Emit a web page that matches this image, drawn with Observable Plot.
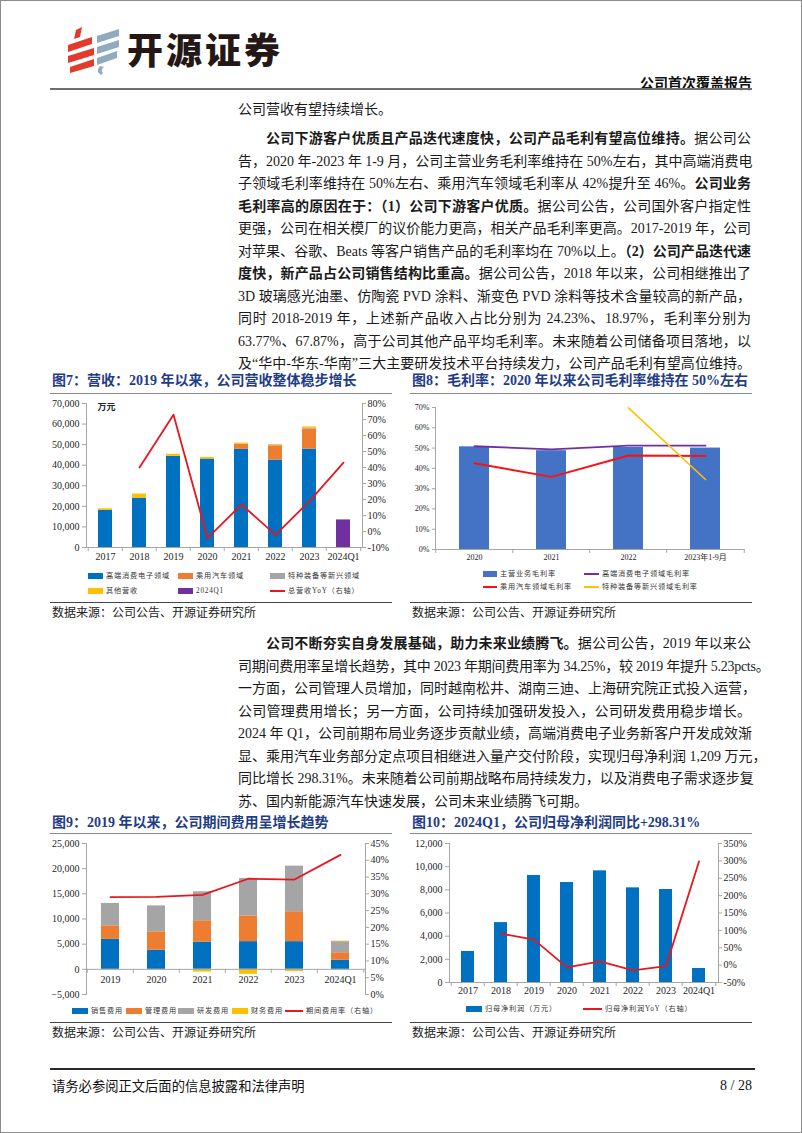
<!DOCTYPE html>
<html><head><meta charset="utf-8">
<script src="https://cdn.jsdelivr.net/npm/d3@7"></script>
<script src="https://cdn.jsdelivr.net/npm/@observablehq/plot@0.6"></script>
<style>
html,body{margin:0;padding:0;background:#fff;}
#page{position:relative;width:802px;height:1133px;overflow:hidden;font-family:"Liberation Serif","Noto Sans CJK SC",serif;color:#1a1a1a;}
#border{position:absolute;left:0;top:0;width:800px;height:1131px;border:1px solid #8c8c8c;pointer-events:none;}
.ln{position:absolute;left:238px;width:513px;font-size:14px;line-height:22px;height:22px;text-align:justify;text-align-last:justify;white-space:nowrap;}
.ln b{font-weight:700;}
.title{position:absolute;font-size:14px;font-weight:700;color:#1f3c86;white-space:nowrap;line-height:18px;}
.hr{position:absolute;height:0;border-top:1px solid #8a8a8a;}
.src{position:absolute;font-size:12px;line-height:14px;white-space:nowrap;color:#222;font-family:"Noto Sans CJK SC",serif;}
.lg{position:absolute;font-family:"Liberation Serif","Noto Sans CJK SC",serif;font-size:7.2px;letter-spacing:0.8px;color:#333;white-space:nowrap;line-height:10px;}
.sw{position:absolute;}
</style></head>
<body>
<div id="page">
  <svg style="position:absolute;left:60px;top:24px" width="70" height="52" viewBox="60 24 70 52">
    <g fill="#e23a2c">
      <polygon points="76,30 82,27 80,37 74,39"/>
      <polygon points="68,45 92,37 92,44 68,52"/>
      <polygon points="68,56 94,48 94,55 68,63"/>
      <polygon points="70,67 94,59 94,66 70,73"/>
    </g>
    <g fill="#90abc0">
      <polygon points="97,36 119,29 119,36 97,43"/>
      <polygon points="97,47 119,40 119,47 97,54"/>
      <polygon points="97,58 117,51 117,58 97,65"/>
      <path d="M100,66 q-5,5 1,9 l2,-2 q-3,-3 1,-6 z"/>
    </g>
  </svg>
  <div style="position:absolute;left:127px;top:24px;font-family:'Noto Sans CJK SC';font-weight:900;font-size:36px;letter-spacing:3px;color:#231815;line-height:48px;">开源证券</div>
  <div style="position:absolute;right:50px;top:73px;font-family:'Noto Sans CJK SC';font-weight:700;font-size:14px;line-height:18px;color:#111;">公司首次覆盖报告</div>
  <div class="hr" style="left:50px;top:88px;width:702px;border-top:2px solid #6e6e6e;"></div>

  <div class="ln" style="top:99px;text-align:left;text-align-last:left;">公司营收有望持续增长。</div>
  <div id="p1"></div>
  <div id="p2"></div>

  <div class="title" style="left:52px;top:372px;">图7：营收：2019 年以来，公司营收整体稳步增长</div>
  <div class="hr" style="left:50px;top:393px;width:342px;"></div>
  <div class="hr" style="left:50px;top:602px;width:342px;border-top-color:#444;"></div>
  <div class="src" style="left:52px;top:605px;">数据来源：公司公告、开源证券研究所</div>

  <div class="title" style="left:412px;top:372px;">图8：毛利率：2020 年以来公司毛利率维持在 50%左右</div>
  <div class="hr" style="left:410px;top:393px;width:342px;"></div>
  <div class="hr" style="left:410px;top:602px;width:342px;border-top-color:#444;"></div>
  <div class="src" style="left:412px;top:605px;">数据来源：公司公告、开源证券研究所</div>

  <div class="title" style="left:52px;top:814px;">图9：2019 年以来，公司期间费用呈增长趋势</div>
  <div class="hr" style="left:50px;top:833px;width:342px;"></div>
  <div class="hr" style="left:50px;top:1022px;width:342px;border-top-color:#444;"></div>
  <div class="src" style="left:52px;top:1025px;">数据来源：公司公告、开源证券研究所</div>

  <div class="title" style="left:412px;top:814px;">图10：2024Q1，公司归母净利润同比+298.31%</div>
  <div class="hr" style="left:410px;top:833px;width:342px;"></div>
  <div class="hr" style="left:410px;top:1022px;width:342px;border-top-color:#444;"></div>
  <div class="src" style="left:412px;top:1025px;">数据来源：公司公告、开源证券研究所</div>

  <div class="hr" style="left:50px;top:1068px;width:705px;border-top:2px solid #2a2a2a;"></div>
  <div style="position:absolute;left:52px;top:1077px;font-family:'Noto Sans CJK SC';font-size:13.3px;line-height:18px;color:#111;">请务必参阅正文后面的信息披露和法律声明</div>
  <div style="position:absolute;right:50px;top:1077px;font-family:'Liberation Serif';font-size:14px;line-height:18px;color:#111;">8 / 28</div>
  <div id="border"></div>
</div>
<script>
// ---------------- Body text ----------------
const para1 = [
  '<b>公司下游客户优质且产品迭代速度快，公司产品毛利有望高位维持。</b>据公司公',
  '告，2020 年-2023 年 1-9 月，公司主营业务毛利率维持在 50%左右，其中高端消费电',
  '子领域毛利率维持在 50%左右、乘用汽车领域毛利率从 42%提升至 46%。<b>公司业务</b>',
  '<b>毛利率高的原因在于：（1）公司下游客户优质。</b>据公司公告，公司国外客户指定性',
  '更强，公司在相关模厂的议价能力更高，相关产品毛利率更高。2017-2019 年，公司',
  '对苹果、谷歌、Beats 等客户销售产品的毛利率均在 70%以上。<b>（2）公司产品迭代速</b>',
  '<b>度快，新产品占公司销售结构比重高。</b>据公司公告，2018 年以来，公司相继推出了',
  '3D 玻璃感光油墨、仿陶瓷 PVD 涂料、渐变色 PVD 涂料等技术含量较高的新产品，',
  '同时 2018-2019 年，上述新产品收入占比分别为 24.23%、18.97%，毛利率分别为',
  '63.77%、67.87%，高于公司其他产品平均毛利率。未来随着公司储备项目落地，以',
  '及“华中-华东-华南”三大主要研发技术平台持续发力，公司产品毛利有望高位维持。'
];
const para2 = [
  '<b>公司不断夯实自身发展基础，助力未来业绩腾飞。</b>据公司公告，2019 年以来公',
  '司期间费用率呈增长趋势，其中 2023 年期间费用率为 34.25%，较 2019 年提升 5.23pcts。',
  '一方面，公司管理人员增加，同时越南松井、湖南三迪、上海研究院正式投入运营，',
  '公司管理费用增长；另一方面，公司持续加强研发投入，公司研发费用稳步增长。',
  '2024 年 Q1，公司前期布局业务逐步贡献业绩，高端消费电子业务新客户开发成效渐',
  '显、乘用汽车业务部分定点项目相继进入量产交付阶段，实现归母净利润 1,209 万元，',
  '同比增长 298.31%。未来随着公司前期战略布局持续发力，以及消费电子需求逐步复',
  '苏、国内新能源汽车快速发展，公司未来业绩腾飞可期。'
];
function writePara(lines, firstTop, holder, lastLeft) {
  const h = document.getElementById(holder);
  lines.forEach((t, i) => {
    const d = document.createElement('div');
    d.className = 'ln';
    d.style.top = (firstTop + i * 22.5) + 'px';
    if (i === 0) d.style.textIndent = '28px';
    if (lastLeft && i === lines.length - 1) { d.style.textAlign = 'left'; d.style.textAlignLast = 'left'; }
    if (t.indexOf('5.23pcts') >= 0) { d.style.width = '516px'; d.style.letterSpacing = '-0.25px'; }
    d.innerHTML = t;
    h.appendChild(d);
  });
}
writePara(para1, 128, 'p1', false);
writePara(para2, 633, 'p2', true);

// ---------------- Chart data ----------------
// Fig 7: revenue (万元) by segment, YoY (%)
const revYears = ["2017", "2018", "2019", "2020", "2021", "2022", "2023", "2024Q1"];
const revConsumer = [18000, 24000, 44300, 43000, 47700, 42500, 47800, 0];
const revAuto = [0, 0, 0, 0, 2600, 6800, 9800, 0];
const revSpecial = [0, 0, 0, 0, 0, 300, 300, 0];
const revOther = [800, 2000, 1000, 800, 400, 400, 700, 0];
const revQ1 = [0, 0, 0, 0, 0, 0, 0, 13400];
const revYoY = [null, 40.0, 73.0, -4.2, 16.9, -2.1, 19.0, 43.0];
const revSeries = ["高端消费电子领域", "乘用汽车领域", "特种装备等新兴领域", "其他营收", "2024Q1"];
const revLeftTicks = [0, 10000, 20000, 30000, 40000, 50000, 60000, 70000];
const revRightTicks = [-10, 0, 10, 20, 30, 40, 50, 60, 70, 80];

// Fig 8: gross margin (%)
const gmYears = ["2020", "2021", "2022", "2023年1-9月"];
const gmMain = [50.6, 48.7, 50.3, 50.0];
const gmConsumer = [50.9, 49.4, 51.2, 51.2];
const gmAuto = [42.5, 35.8, 46.3, 46.1];
const gmSpecial = [null, null, 69.8, 34.5];
const gmTicks = [0, 10, 20, 30, 40, 50, 60, 70];

// Fig 9: period expenses (万元), expense ratio (%)
const expYears = ["2019", "2020", "2021", "2022", "2023", "2024Q1"];
const expSales = [5950, 3800, 5400, 5500, 5500, 1800];
const expAdmin = [2700, 3650, 4250, 5100, 5950, 1500];
const expRD = [4450, 5150, 5750, 7450, 9050, 2200];
const expFin = [0, 0, -550, -1000, -450, 100];
const expRate = [29.0, 29.1, 29.7, 34.5, 34.25, 41.6];
const expSeries = ["销售费用", "管理费用", "研发费用", "财务费用"];
const expLeftTicks = [-5000, 0, 5000, 10000, 15000, 20000, 25000];
const expRightTicks = [0, 5, 10, 15, 20, 25, 30, 35, 40, 45];

// Fig 10: net profit (万元), YoY (%)
const npYears = ["2017", "2018", "2019", "2020", "2021", "2022", "2023", "2024Q1"];
const npProfit = [2680, 5170, 9240, 8630, 9640, 8170, 8030, 1209];
const npYoY = [null, 90.7, 73.4, -6.6, 10.7, -15.3, -2.9, 298.31];
const npLeftTicks = [0, 2000, 4000, 6000, 8000, 10000, 12000];
const npRightTicks = [-50, 0, 50, 100, 150, 200, 250, 300, 350];

// ---------------- Helpers ----------------
const BLUE = "#0070C0", ORANGE = "#ED7D31", GRAY = "#A5A5A5", YELLOW = "#FFC000", PURPLE = "#7030A0", RED = "#E8161E";
const AX = "#a6a6a6", TXT = "#262626";
const serif = '"Liberation Serif","Noto Sans CJK SC",serif';
const page = document.getElementById('page');
function put(node, left, top) {
  const d = document.createElement('div');
  d.style.cssText = `position:absolute;left:${left}px;top:${top}px;`;
  d.appendChild(node);
  page.appendChild(d);
}
function boundaryTicks(cats, plotW, yv) {
  const step = plotW / cats.length;
  return [
    Plot.ruleX(cats, {x: d => d, y1: () => yv, y2: () => yv, insetBottom: -4, dx: -step / 2, stroke: AX}),
    Plot.ruleX([cats[cats.length - 1]], {x: d => d, y1: () => yv, y2: () => yv, insetBottom: -4, dx: step / 2, stroke: AX})
  ];
}
function legend(items) {
  items.forEach(it => {
    const s = document.createElement('div');
    s.className = 'sw';
    if (it.type === 'line') {
      s.style.cssText += `left:${it.x}px;top:${it.y - 1}px;width:${it.w || 18}px;height:2px;background:${it.color};`;
    } else {
      s.style.cssText += `left:${it.x}px;top:${it.y - 3}px;width:${it.w || 15}px;height:6px;background:${it.color};`;
    }
    page.appendChild(s);
    const t = document.createElement('div');
    t.className = 'lg';
    t.style.left = (it.x + (it.w || (it.type === 'line' ? 18 : 15)) + 3) + 'px';
    t.style.top = (it.y - 5) + 'px';
    t.textContent = it.label;
    page.appendChild(t);
  });
}

// ---------------- Fig 7 ----------------
{
  const W = 360, H = 172, ml = 46, mr = 38, mt = 8, mb = 20;
  const arrs = [revConsumer, revAuto, revSpecial, revOther, revQ1];
  const rows = revYears.flatMap((yr, i) => arrs.map((a, k) => ({year: yr, series: revSeries[k], value: a[i]})));
  const toLeft = r => (r + 10) / 90 * 70000;
  const yoy = revYears.map((yr, i) => ({year: yr, v: revYoY[i]})).filter(d => d.v != null);
  const p = Plot.plot({
    width: W, height: H, marginLeft: ml, marginRight: mr, marginTop: mt, marginBottom: mb,
    style: {fontFamily: serif, fontSize: "10px", color: TXT, background: "transparent", overflow: "visible"},
    x: {domain: revYears, paddingInner: 0.58, paddingOuter: 0.29, label: null},
    y: {domain: [0, 70000], label: null},
    color: {domain: revSeries, range: [BLUE, ORANGE, GRAY, YELLOW, PURPLE]},
    marks: [
      Plot.barY(rows, {x: "year", y: "value", fill: "series", order: revSeries}),
      Plot.line(yoy, {x: "year", y: d => toLeft(d.v), stroke: RED, strokeWidth: 1.8}),
      Plot.ruleY([0], {stroke: AX}),
      Plot.frame({anchor: "left", stroke: AX}),
      Plot.frame({anchor: "right", stroke: AX}),
      ...boundaryTicks(revYears, W - ml - mr, 0),
      Plot.axisY(revLeftTicks, {anchor: "left", tickSize: 4, tickPadding: 3, tickFormat: d3.format(","), stroke: AX, label: null}),
      Plot.axisY(revRightTicks.map(toLeft), {anchor: "right", tickSize: 3, tickPadding: 2, tickFormat: d => Math.round(d / 70000 * 90 - 10) + "%", stroke: AX, label: null}),
      Plot.axisX({anchor: "bottom", tickSize: 0, tickPadding: 5, label: null}),
      Plot.text(["万元"], {frameAnchor: "top-left", text: d => d, dx: 11, dy: 0, fontWeight: "bold", fontSize: 9, fontFamily: "Noto Sans CJK SC"})
    ]
  });
  put(p, 40, 395);
  legend([
    {label: revSeries[0], color: BLUE, x: 88, y: 576},
    {label: revSeries[1], color: ORANGE, x: 178, y: 576},
    {label: revSeries[2], color: GRAY, x: 270, y: 576},
    {label: revSeries[3], color: YELLOW, x: 88, y: 591},
    {label: revSeries[4], color: PURPLE, x: 178, y: 591},
    {label: "总营收YoY（右轴）", color: RED, x: 270, y: 591, type: 'line', w: 15}
  ]);
}

// ---------------- Fig 8 ----------------
{
  const W = 360, H = 172, ml = 35, mr = 15, mt = 12, mb = 18;
  const bars = gmYears.map((yr, i) => ({year: yr, v: gmMain[i]}));
  const ser = a => gmYears.map((yr, i) => ({year: yr, v: a[i]})).filter(d => d.v != null);
  const p = Plot.plot({
    width: W, height: H, marginLeft: ml, marginRight: mr, marginTop: mt, marginBottom: mb,
    style: {fontFamily: serif, fontSize: "8px", color: TXT, background: "transparent", overflow: "visible"},
    x: {domain: gmYears, paddingInner: 0.61, paddingOuter: 0.305, label: null},
    y: {domain: [0, 70], label: null},
    marks: [
      Plot.barY(bars, {x: "year", y: "v", fill: "#4472C4"}),
      Plot.line(ser(gmConsumer), {x: "year", y: "v", stroke: PURPLE, strokeWidth: 1.8}),
      Plot.line(ser(gmAuto), {x: "year", y: "v", stroke: "#FF1010", strokeWidth: 2}),
      Plot.line(ser(gmSpecial), {x: "year", y: "v", stroke: YELLOW, strokeWidth: 1.6}),
      Plot.ruleY([0], {stroke: AX}),
      Plot.frame({anchor: "left", stroke: AX}),
      ...boundaryTicks(gmYears, W - ml - mr, 0),
      Plot.axisY(gmTicks, {anchor: "left", tickSize: 3, tickPadding: 3, tickFormat: d => d + "%", stroke: AX, label: null}),
      Plot.axisX({anchor: "bottom", tickSize: 0, tickPadding: 5, label: null})
    ]
  });
  put(p, 400, 395);
  legend([
    {label: "主营业务毛利率", color: "#4472C4", x: 483, y: 574, w: 14},
    {label: "高端消费电子领域毛利率", color: PURPLE, x: 584, y: 574, type: 'line', w: 15},
    {label: "乘用汽车领域毛利率", color: "#FF1010", x: 483, y: 587, type: 'line', w: 14},
    {label: "特种装备等新兴领域毛利率", color: YELLOW, x: 584, y: 587, type: 'line', w: 15}
  ]);
}

// ---------------- Fig 9 ----------------
{
  const W = 360, H = 162, ml = 46, mr = 35, mt = 8, mb = 3;
  const arrs = [expSales, expAdmin, expRD, expFin];
  const rows = expYears.flatMap((yr, i) => arrs.map((a, k) => ({year: yr, series: expSeries[k], value: a[i]})));
  const toLeft = r => -5000 + r / 45 * 30000;
  const rate = expYears.map((yr, i) => ({year: yr, v: expRate[i]}));
  const p = Plot.plot({
    width: W, height: H, marginLeft: ml, marginRight: mr, marginTop: mt, marginBottom: mb,
    style: {fontFamily: serif, fontSize: "10px", color: TXT, background: "transparent", overflow: "visible"},
    x: {domain: expYears, paddingInner: 0.6, paddingOuter: 0.3, label: null, axis: null},
    y: {domain: [-5000, 25000], label: null},
    color: {domain: expSeries, range: [BLUE, ORANGE, GRAY, YELLOW]},
    marks: [
      Plot.barY(rows, {x: "year", y: "value", fill: "series", order: expSeries}),
      Plot.line(rate, {x: "year", y: d => toLeft(d.v), stroke: RED, strokeWidth: 1.8}),
      Plot.ruleY([0], {stroke: AX}),
      Plot.frame({anchor: "left", stroke: AX}),
      Plot.frame({anchor: "right", stroke: AX}),
      ...boundaryTicks(expYears, W - ml - mr, 0),
      Plot.axisY(expLeftTicks, {anchor: "left", tickSize: 4, tickPadding: 3, tickFormat: d3.format(","), stroke: AX, label: null}),
      Plot.axisY(expRightTicks.map(toLeft), {anchor: "right", tickSize: 3, tickPadding: 2, tickFormat: d => Math.round((d + 5000) / 30000 * 45) + "%", stroke: AX, label: null}),
      Plot.text(expYears, {x: d => d, y: () => 0, text: d => d, dy: 10, fill: TXT})
    ]
  });
  put(p, 40, 835);
  legend([
    {label: expSeries[0], color: BLUE, x: 72, y: 1011, w: 16},
    {label: expSeries[1], color: ORANGE, x: 126, y: 1011, w: 16},
    {label: expSeries[2], color: GRAY, x: 178, y: 1011, w: 16},
    {label: expSeries[3], color: YELLOW, x: 232, y: 1011, w: 16},
    {label: "期间费用率（右轴）", color: RED, x: 285, y: 1011, type: 'line', w: 18}
  ]);
}

// ---------------- Fig 10 ----------------
{
  const W = 360, H = 165, ml = 49, mr = 42, mt = 8, mb = 18;
  const bars = npYears.map((yr, i) => ({year: yr, v: npProfit[i]}));
  const toLeft = r => (r + 50) / 400 * 12000;
  const yoy = npYears.map((yr, i) => ({year: yr, v: npYoY[i]})).filter(d => d.v != null);
  const p = Plot.plot({
    width: W, height: H, marginLeft: ml, marginRight: mr, marginTop: mt, marginBottom: mb,
    style: {fontFamily: serif, fontSize: "10px", color: TXT, background: "transparent", overflow: "visible"},
    x: {domain: npYears, paddingInner: 0.6, paddingOuter: 0.3, label: null},
    y: {domain: [0, 12000], label: null},
    marks: [
      Plot.barY(bars, {x: "year", y: "v", fill: BLUE}),
      Plot.line(yoy, {x: "year", y: d => toLeft(d.v), stroke: RED, strokeWidth: 1.8}),
      Plot.ruleY([0], {stroke: AX}),
      Plot.frame({anchor: "left", stroke: AX}),
      Plot.frame({anchor: "right", stroke: AX}),
      ...boundaryTicks(npYears, W - ml - mr, 0),
      Plot.axisY(npLeftTicks, {anchor: "left", tickSize: 4, tickPadding: 3, tickFormat: d3.format(","), stroke: AX, label: null}),
      Plot.axisY(npRightTicks.map(toLeft), {anchor: "right", tickSize: 3, tickPadding: 2, tickFormat: d => Math.round(d / 12000 * 400 - 50) + "%", stroke: AX, label: null}),
      Plot.axisX({anchor: "bottom", tickSize: 0, tickPadding: 4, label: null})
    ]
  });
  put(p, 400, 835);
  legend([
    {label: "归母净利润（万元）", color: BLUE, x: 466, y: 1009, w: 16},
    {label: "归母净利润YoY（右轴）", color: RED, x: 583, y: 1009, type: 'line', w: 19}
  ]);
}
</script>
</body></html>
